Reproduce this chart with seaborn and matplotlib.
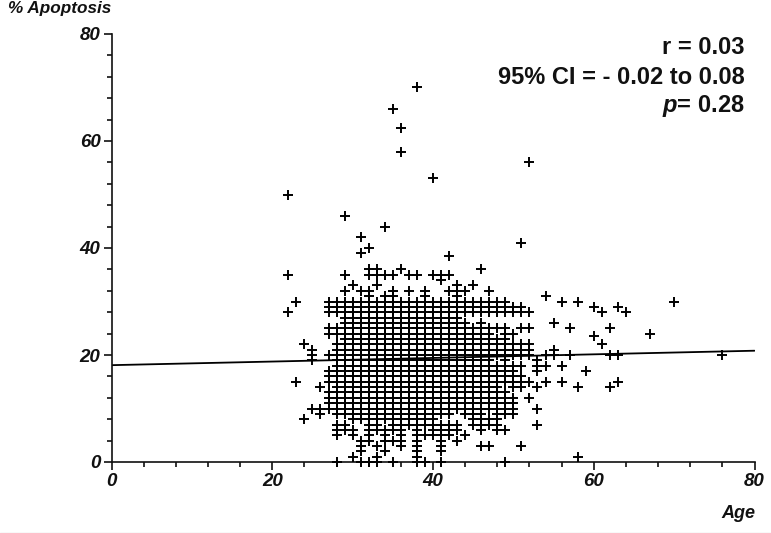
import matplotlib
matplotlib.use("Agg")
import matplotlib.pyplot as plt
import pandas as pd
import seaborn as sns
from matplotlib.lines import Line2D
from matplotlib.ticker import MultipleLocator

# values, one list per age
age_22 = [50, 35, 28]
age_23 = [30, 15]
age_24 = [22, 8]
age_25 = [21, 20, 19, 10]
age_26 = [14, 10, 9]
age_27 = [30, 29, 28, 25, 24, 20, 17, 16, 15, 13, 12, 11, 10]
age_28 = [30, 29, 28, 25, 24, 22, 21, 20, 19, 18, 17, 16, 15, 14, 13, 12, 11, 10, 9, 7, 6, 5, 0]
age_29 = [46, 35, 32, 30, 29, 28, 27, 26, 25, 24, 23, 22, 21, 20, 19, 18, 17, 16, 15, 14, 13, 12, 11, 10, 9, 7, 6]
age_30 = [33, 30, 29, 28, 27, 26, 25, 24, 23, 22, 21, 20, 19, 18, 17, 16, 15, 14, 13, 12, 11, 10, 9, 8, 6, 5, 1]
age_31 = [42, 39, 32, 30, 29, 28, 27, 26, 25, 24, 23, 22, 21, 20, 19, 18, 17, 16, 15, 14, 13, 12, 11, 10, 9, 8, 4, 3, 2, 0]
age_32 = [40, 36, 35, 32, 31, 30, 29, 28, 27, 26, 25, 24, 23, 22, 21, 20, 19, 18, 17, 16, 15, 14, 13, 12, 11, 10, 9, 8, 7, 6, 5, 4, 0]
age_33 = [36, 35, 33, 30, 29, 28, 27, 26, 25, 24, 23, 22, 21, 20, 19, 18, 17, 16, 15, 14, 13, 12, 11, 10, 9, 8, 7, 6, 3, 1, 0]
age_34 = [44, 35, 31, 30, 29, 28, 27, 26, 25, 24, 23, 22, 21, 20, 19, 18, 17, 16, 15, 14, 13, 12, 11, 10, 9, 8, 6, 5, 4, 2]
age_35 = [66, 35, 32, 31, 30, 29, 28, 27, 26, 25, 24, 23, 22, 21, 20, 19, 18, 17, 16, 15, 14, 13, 12, 11, 10, 9, 8, 7, 6, 4, 0]
age_36 = [62.5, 58, 36, 30, 29, 28, 27, 26, 25, 24, 23, 22, 21, 20, 19, 18, 17, 16, 15, 14, 13, 12, 11, 10, 9, 8, 7, 6, 5, 4, 3]
age_37 = [35, 32, 30, 29, 28, 27, 26, 25, 24, 23, 22, 21, 20, 19, 18, 17, 16, 15, 14, 13, 12, 11, 10, 9, 8, 7]
age_38 = [70, 35, 30, 29, 28, 27, 26, 25, 24, 23, 22, 21, 20, 19, 18, 17, 16, 15, 14, 13, 12, 11, 10, 9, 8, 7, 6, 5, 4, 3, 2, 1, 0]
age_39 = [32, 31, 30, 29, 28, 27, 26, 25, 24, 23, 22, 21, 20, 19, 18, 17, 16, 15, 14, 13, 12, 11, 10, 9, 8, 7, 5, 0]
age_40 = [53, 35, 30, 29, 28, 27, 26, 25, 24, 23, 22, 21, 20, 19, 18, 17, 16, 15, 14, 13, 12, 11, 10, 9, 8, 7, 6, 5]
age_41 = [35, 34, 30, 29, 28, 27, 26, 25, 24, 23, 22, 21, 20, 19, 18, 17, 16, 15, 14, 13, 12, 11, 10, 9, 7, 6, 5, 4, 3, 2, 0]
age_42 = [38.5, 35, 32, 30, 29, 28, 27, 26, 25, 24, 23, 22, 21, 20, 19, 18, 17, 16, 15, 14, 13, 12, 11, 10, 9, 7, 6, 5]
age_43 = [33, 32, 31, 30, 29, 28, 27, 26, 25, 24, 23, 22, 21, 20, 19, 18, 17, 16, 15, 14, 13, 12, 11, 10, 7, 6, 4]
age_44 = [32, 30, 29, 28, 26, 25, 24, 23, 22, 21, 20, 19, 18, 17, 16, 15, 14, 13, 12, 11, 10, 9, 5]
age_45 = [33, 30, 29, 28, 25, 24, 23, 22, 21, 20, 19, 18, 17, 16, 15, 14, 13, 12, 11, 10, 9, 8, 7]
age_46 = [36, 30, 29, 28, 26, 25, 24, 23, 22, 21, 20, 19, 18, 17, 16, 15, 14, 13, 12, 11, 10, 9, 8, 7, 6, 3]
age_47 = [32, 30, 29, 28, 25, 24, 23, 22, 21, 20, 19, 18, 17, 16, 15, 14, 13, 12, 11, 10, 8, 7, 3]
age_48 = [30, 29, 28, 25, 23, 22, 21, 20, 18, 17, 16, 15, 14, 13, 12, 11, 10, 9, 8, 7, 6]
age_49 = [30, 29, 28, 25, 24, 23, 22, 21, 20, 19, 18, 17, 16, 15, 13, 12, 11, 10, 9, 6, 0]
age_50 = [29, 28, 24, 22, 21, 20, 18, 17, 16, 15, 14, 12, 11, 10, 9]
age_51 = [41, 29, 28, 25, 22, 21, 20, 18, 16, 15, 14, 3]
age_52 = [56, 28, 25, 22, 21, 20, 15, 12]
age_53 = [19, 18, 17, 14, 10, 7]
age_54 = [31, 20, 15, 18]
age_55 = [26, 21, 20]
age_56 = [30, 18, 15]
age_57 = [25, 20]
age_58 = [30, 14, 1]
age_59 = [17]
age_60 = [29, 23.5]
age_61 = [28, 22]
age_62 = [25, 20, 14]
age_63 = [29, 20, 15]
age_64 = [28]
age_67 = [24]
age_70 = [30]
age_76 = [20]

ages = [22, 23, 24, 25, 26, 27, 28, 29, 30, 31, 32, 33, 34, 35, 36, 37, 38, 39, 40, 41, 42, 43, 44, 45, 46, 47, 48, 49,
        50, 51, 52, 53, 54, 55, 56, 57, 58, 59, 60, 61, 62, 63, 64, 67, 70, 76]
columns = [age_22, age_23, age_24, age_25, age_26, age_27, age_28, age_29, age_30, age_31, age_32, age_33, age_34,
           age_35, age_36, age_37, age_38, age_39, age_40, age_41, age_42, age_43, age_44, age_45, age_46, age_47,
           age_48, age_49, age_50, age_51, age_52, age_53, age_54, age_55, age_56, age_57, age_58, age_59, age_60,
           age_61, age_62, age_63, age_64, age_67, age_70, age_76]

fit_age = [0, 80]
fit_apoptosis = [18.1, 20.8]

x_ticks = [0, 20, 40, 60, 80]
y_ticks = [0, 20, 40, 60, 80]

df = pd.DataFrame([(a, v) for a, col in zip(ages, columns) for v in col], columns=["Age", "Apoptosis"])
fit = pd.DataFrame({"Age": fit_age, "Apoptosis": fit_apoptosis})

sns.set_style("white")
plt.rcParams["font.family"] = ["Liberation Sans", "DejaVu Sans"]
plt.rcParams["mathtext.fontset"] = "custom"
plt.rcParams["mathtext.bfit"] = "Liberation Sans:italic:bold"
plt.rcParams["mathtext.bf"] = "Liberation Sans:bold"

W, H = 771, 533
fig = plt.figure(figsize=(W / 100, H / 100), dpi=100)
ax = fig.add_axes([111.5 / W, 1 - 462 / H, (754.5 - 111.5) / W, (462 - 34) / H])

sns.scatterplot(data=df, x="Age", y="Apoptosis", marker="+", s=60, color="black", linewidth=1.4, ax=ax, clip_on=False, zorder=3)
sns.lineplot(data=fit, x="Age", y="Apoptosis", color="black", linewidth=1.3, ax=ax, zorder=2)

ax.set_xlim(0, 80)
ax.set_ylim(0, 80)
sns.despine(ax=ax)
for side in ["left", "bottom"]:
    ax.spines[side].set_linewidth(1.2)
    ax.spines[side].set_color("#111111")

ax.set_xticks(x_ticks)
ax.set_yticks(y_ticks)
ax.xaxis.set_minor_locator(MultipleLocator(4))
ax.yaxis.set_minor_locator(MultipleLocator(4))
ax.tick_params(which="major", bottom=True, left=True, length=6, width=1.2, color="#111111", pad=2)
ax.tick_params(which="minor", bottom=True, left=True, length=3.5, width=1.2, color="#111111")
for lab in ax.get_xticklabels() + ax.get_yticklabels():
    lab.set_fontsize(13.5)
    lab.set_fontweight("bold")
    lab.set_fontstyle("italic")
    lab.set_color("#111111")
ax.set_xlabel("")
ax.set_ylabel("")

fig.text(8 / W, 1 - 9 / H, "% Apoptosis", fontsize=12.3, fontweight="bold", fontstyle="italic", color="#111111", va="center", ha="left")
fig.text(755 / W, 1 - 514 / H, "Age", fontsize=13, fontweight="bold", fontstyle="italic", color="#111111", va="center", ha="right")

fig.text(745 / W, 1 - 48 / H, "r = 0.03", fontsize=17, fontweight="bold", color="#111111", va="center", ha="right")
fig.text(745 / W, 1 - 77 / H, "95% CI = - 0.02 to 0.08", fontsize=17, fontweight="bold", color="#111111", va="center", ha="right")
fig.text(745 / W, 1 - 106 / H, r"$\mathbfit{p}$= 0.28", fontsize=17, fontweight="bold", color="#111111", va="center", ha="right")

# thin grey edge along the bottom of the scan
fig.add_artist(Line2D([0, 1], [0.5 / H, 0.5 / H], color="#dddddd", linewidth=1))

fig.savefig("out.png", dpi=100)
